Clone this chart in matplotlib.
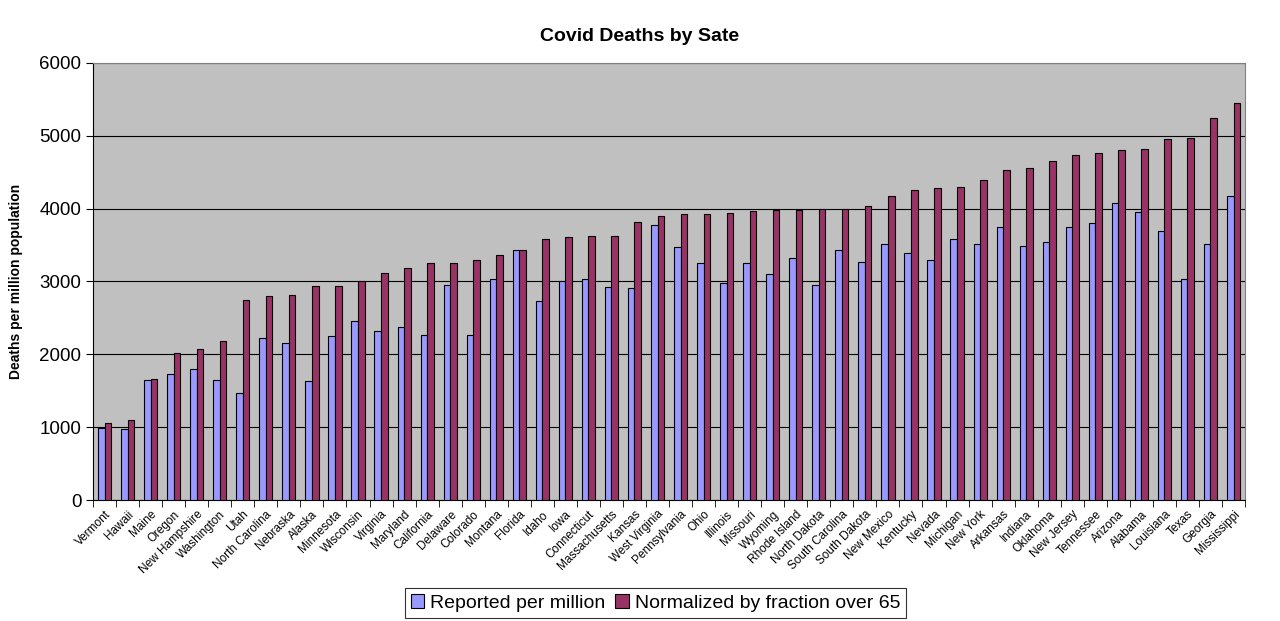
import numpy as np
import matplotlib.pyplot as plt

plt.rcParams['font.family'] = ['Liberation Sans', 'DejaVu Sans']

states = ["Vermont", "Hawaii", "Maine", "Oregon", "New Hampshire", "Washington", "Utah",
          "North Carolina", "Nebraska", "Alaska", "Minnesota", "Wisconsin", "Virginia",
          "Maryland", "California", "Delaware", "Colorado", "Montana", "Florida", "Idaho",
          "Iowa", "Connecticut", "Massachusetts", "Kansas", "West Virginia", "Pennsylvania",
          "Ohio", "Illinois", "Missouri", "Wyoming", "Rhode Island", "North Dakota",
          "South Carolina", "South Dakota", "New Mexico", "Kentucky", "Nevada", "Michigan",
          "New York", "Arkansas", "Indiana", "Oklahoma", "New Jersey", "Tennessee",
          "Arizona", "Alabama", "Louisiana", "Texas", "Georgia", "Mississippi"]

reported = [990, 970, 1650, 1730, 1800, 1650, 1470, 2220, 2150, 1630, 2250, 2460, 2320,
            2370, 2270, 2950, 2270, 3040, 3430, 2730, 3000, 3030, 2920, 2910, 3770, 3470,
            3260, 2980, 3260, 3100, 3320, 2950, 3430, 3270, 3510, 3390, 3290, 3590, 3520,
            3750, 3490, 3540, 3750, 3800, 4080, 3950, 3690, 3040, 3510, 4170]

normalized = [1060, 1100, 1660, 2020, 2080, 2190, 2750, 2800, 2810, 2940, 2940, 3000, 3110,
              3190, 3250, 3250, 3300, 3360, 3430, 3580, 3610, 3630, 3630, 3810, 3900, 3920,
              3930, 3940, 3970, 3980, 3980, 3990, 4000, 4040, 4170, 4250, 4290, 4300, 4400,
              4530, 4560, 4650, 4740, 4760, 4810, 4820, 4960, 4970, 5240, 5450]

fig = plt.figure(figsize=(12.8, 6.21), dpi=100)
ax = fig.add_axes([0.0727, 0.1948, 0.9, 0.7038])
ax.set_facecolor('#C0C0C0')

x = np.arange(len(states))
w = 0.286
ax.bar(x - w/2, reported, w, color='#9999FF', edgecolor='black', linewidth=0.8,
       label='Reported per million', zorder=3)
ax.bar(x + w/2, normalized, w, color='#993366', edgecolor='black', linewidth=0.8,
       label='Normalized by fraction over 65', zorder=3)

ax.set_xlim(-0.5, len(states) - 0.5)
ax.set_ylim(0, 6000)
ax.set_yticks(range(0, 6001, 1000))
ax.yaxis.grid(True, color='black', linewidth=0.8, zorder=1)
ax.tick_params(axis='y', labelsize=13.5, length=5)

ax.set_xticks(x)
ax.set_xticklabels(states, rotation=45, ha='right', rotation_mode='anchor', fontsize=8.5)
ax.tick_params(axis='x', length=0, pad=6)
ax.set_xticks(np.arange(-0.5, len(states)), minor=True)
ax.tick_params(axis='x', which='minor', length=5)

for s in ['top', 'right']:
    ax.spines[s].set_color('#808080')
ax.spines['left'].set_color('black')
ax.spines['bottom'].set_color('black')

ax.set_ylabel('Deaths per million population', fontsize=10, fontweight='bold', labelpad=12)
fig.suptitle('Covid Deaths by Sate', fontsize=14, fontweight='bold', y=0.955)

leg = fig.legend(loc='center', bbox_to_anchor=(0.512, 0.029), ncol=2, fontsize=14,
                 frameon=True, fancybox=False, edgecolor='black', handlelength=0.7,
                 handleheight=0.7, handletextpad=0.3, columnspacing=0.5, borderpad=0.3)
leg.get_frame().set_linewidth(0.8)

fig.savefig('out.png', dpi=100)
